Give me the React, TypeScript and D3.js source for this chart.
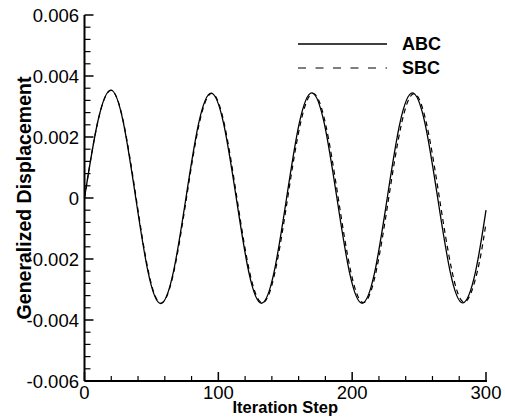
import React from 'react';
import { scaleLinear, line, curveNatural, range } from 'd3';

const width = 505;
const height = 417;

// ABC (solid): extrema, zero crossings and points between
const abcStep = [0, 9.9, 19.8, 29.05, 38.3, 47.6, 56.9, 66.35, 75.8, 85.2, 94.6, 104.0, 113.4, 122.8, 132.2, 141.6, 151.0, 160.4, 169.8, 179.2, 188.6, 198.0, 207.4, 216.8, 226.2, 235.6, 245.0, 254.45, 263.9, 273.3, 282.7, 292.1, 300];
const abcValue = [0, 0.0025, 0.00354, 0.00247, 0, -0.00245, -0.00346, -0.00244, 0, 0.00243, 0.00344, 0.00243, 0, -0.00244, -0.00345, -0.00244, 0, 0.00244, 0.00345, 0.00244, 0, -0.00244, -0.00345, -0.00244, 0, 0.00244, 0.00345, 0.00244, 0, -0.00243, -0.00344, -0.00243, -0.0004];

// SBC (dashed), lagging slightly more as steps go on
const sbcStep = [0, 9.95, 19.9, 29.25, 38.6, 47.9, 57.2, 66.7, 76.2, 85.65, 95.1, 104.5, 113.9, 123.4, 132.9, 142.35, 151.8, 161.25, 170.7, 180.15, 189.6, 199.0, 208.4, 217.85, 227.3, 236.75, 246.2, 255.7, 265.2, 274.65, 284.1, 293.6, 300];
const sbcValue = [0, 0.0025, 0.00353, 0.00246, 0, -0.00244, -0.00345, -0.00243, 0, 0.00242, 0.00343, 0.00242, 0, -0.00243, -0.00344, -0.00243, 0, 0.00242, 0.00343, 0.00242, 0, -0.00242, -0.00343, -0.00242, 0, 0.00241, 0.00342, 0.00241, 0, -0.00241, -0.00341, -0.0024, -0.00082];

const xTicks = [0, 100, 200, 300];
const xTickLabels = ['0', '100', '200', '300'];
const yTicks = [-0.006, -0.004, -0.002, 0, 0.002, 0.004, 0.006];
const yTickLabels = ['-0.006', '-0.004', '-0.002', '0', '0.002', '0.004', '0.006'];

const legendNames = ['ABC', 'SBC'];

const left = 84.5, right = 486, top = 15, bottom = 381;
const font = '"Liberation Sans", Arial, Helvetica, sans-serif';

export default function App() {
    const x = scaleLinear().domain([0, 300]).range([left, right]);
    const y = scaleLinear().domain([-0.006, 0.006]).range([bottom, top]);

    const abcPath = line<number>().x((d, i) => x(abcStep[i])).y(d => y(d)).curve(curveNatural)(abcValue);
    const sbcPath = line<number>().x((d, i) => x(sbcStep[i])).y(d => y(d)).curve(curveNatural)(sbcValue);

    const xMinor = range(0, 301, 20).filter(v => v % 100 !== 0);
    const yMinor = range(-6, 6.01, 0.4).map(v => v / 1000).filter(v => Math.abs((v * 1000) / 2 - Math.round((v * 1000) / 2)) > 0.01);

    return (
        <svg width={width} height={height} style={{ position: 'absolute', left: 0, top: 0, background: '#fff' }} fontFamily={font}>
            {/* curves */}
            <path d={sbcPath || ''} fill="none" stroke="#000" strokeWidth={1.2} strokeDasharray="5,4" />
            <path d={abcPath || ''} fill="none" stroke="#000" strokeWidth={1.3} />

            {/* axes */}
            <line x1={left} x2={left} y1={top} y2={bottom} stroke="#000" strokeWidth={2} />
            <line x1={left} x2={right + 1} y1={bottom} y2={bottom} stroke="#000" strokeWidth={2} />
            {yTicks.map((t, i) => (
                <g key={'y' + i}>
                    <line x1={left} x2={left + 9} y1={y(t)} y2={y(t)} stroke="#000" strokeWidth={1.5} />
                    <text x={79} y={y(t) + 7} textAnchor="end" fontSize={18.5}>{yTickLabels[i]}</text>
                </g>
            ))}
            {yMinor.map((t, i) => (
                <line key={'ym' + i} x1={left} x2={left + 6} y1={y(t)} y2={y(t)} stroke="#000" strokeWidth={1.2} />
            ))}
            {xTicks.map((t, i) => (
                <g key={'x' + i}>
                    <line x1={x(t)} x2={x(t)} y1={bottom} y2={bottom - 9} stroke="#000" strokeWidth={1.5} />
                    <text x={x(t)} y={399} textAnchor="middle" fontSize={18.5}>{xTickLabels[i]}</text>
                </g>
            ))}
            {xMinor.map((t, i) => (
                <line key={'xm' + i} x1={x(t)} x2={x(t)} y1={bottom} y2={bottom - 5} stroke="#000" strokeWidth={1.2} />
            ))}

            {/* titles */}
            <text x={(left + right) / 2} y={413} textAnchor="middle" fontSize={16.5} fontWeight="bold">Iteration Step</text>
            <text transform={`translate(31, ${(top + bottom) / 2}) rotate(-90)`} textAnchor="middle" fontSize={19.5} fontWeight="bold">Generalized Displacement</text>

            {/* legend */}
            <line x1={298} x2={387} y1={44} y2={44} stroke="#000" strokeWidth={1.3} />
            <text x={402} y={49.5} fontSize={18} fontWeight="bold">{legendNames[0]}</text>
            <line x1={298} x2={387} y1={68} y2={68} stroke="#000" strokeWidth={1.2} strokeDasharray="8,9.5" />
            <text x={402} y={73.5} fontSize={18} fontWeight="bold">{legendNames[1]}</text>
        </svg>
    );
}
